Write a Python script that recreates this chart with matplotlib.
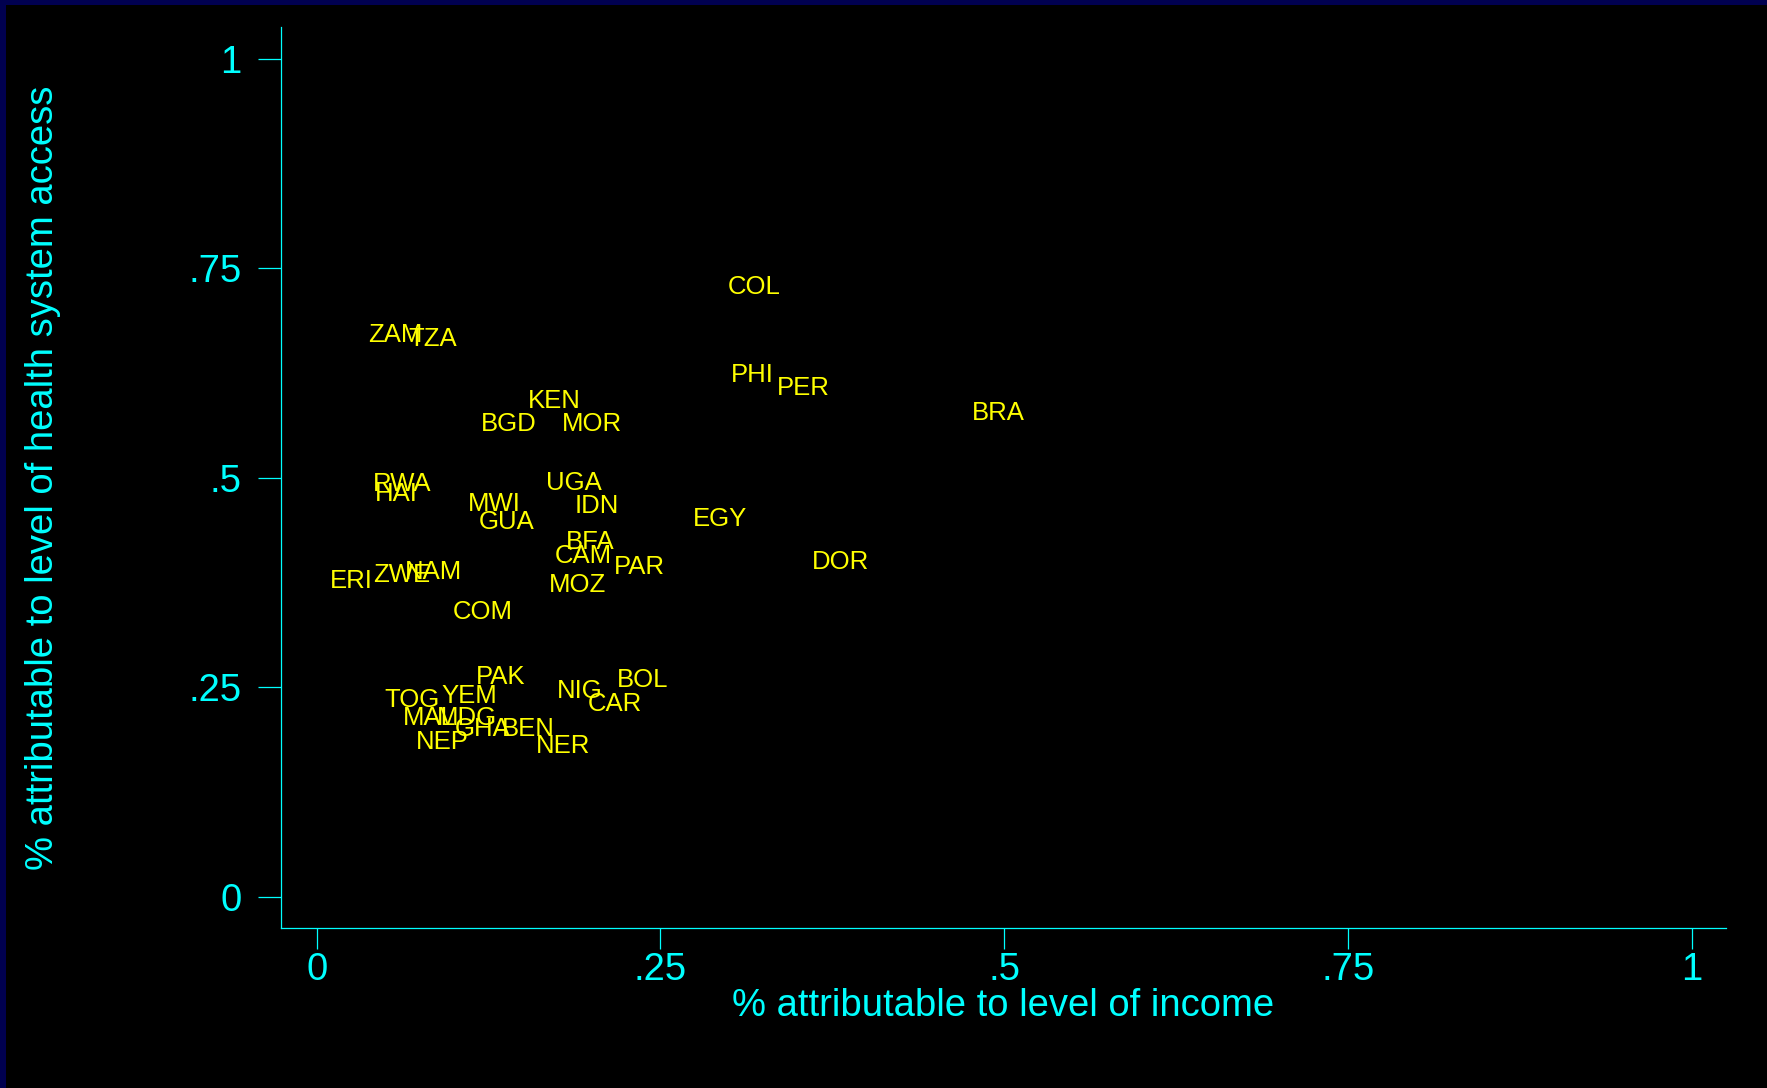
import matplotlib
matplotlib.use("Agg")
import matplotlib.pyplot as plt
from matplotlib.patches import Rectangle
from matplotlib.transforms import offset_copy

# Country codes and decomposition shares
countries = ["COL", "ZAM", "TZA", "PHI", "PER", "BRA", "KEN", "BGD", "MOR",
             "RWA", "HAI", "UGA", "MWI", "IDN", "GUA", "EGY", "BFA", "CAM",
             "PAR", "DOR", "ERI", "ZWE", "NAM", "MOZ", "COM", "PAK", "TOG",
             "YEM", "NIG", "BOL", "CAR", "MAL", "MDG", "GHA", "BEN", "NEP",
             "NER"]
income_share = [0.318, 0.057, 0.084, 0.317, 0.354, 0.496, 0.173, 0.140, 0.200,
                0.062, 0.058, 0.187, 0.129, 0.204, 0.138, 0.293, 0.199, 0.194,
                0.235, 0.381, 0.025, 0.062, 0.085, 0.190, 0.121, 0.134, 0.069,
                0.111, 0.191, 0.237, 0.217, 0.082, 0.109, 0.121, 0.154, 0.091,
                0.179]
access_share = [0.731, 0.673, 0.669, 0.626, 0.610, 0.581, 0.595, 0.567, 0.567,
                0.496, 0.484, 0.497, 0.472, 0.470, 0.450, 0.454, 0.426, 0.410,
                0.397, 0.403, 0.380, 0.387, 0.391, 0.375, 0.343, 0.266, 0.238,
                0.243, 0.249, 0.262, 0.233, 0.216, 0.216, 0.203, 0.204, 0.188,
                0.183]

tick_values = [0, 0.25, 0.5, 0.75, 1]
tick_labels = ["0", ".25", ".5", ".75", "1"]

W, H = 1767, 1088
fig = plt.figure(figsize=(W / 100, H / 100), dpi=100, facecolor="black")
navy = "#000050"
fig.patches.append(Rectangle((0, 0), 6 / W, 1, transform=fig.transFigure,
                             facecolor=navy, edgecolor="none", zorder=0))
fig.patches.append(Rectangle((0, 1 - 5 / H), 1, 5 / H, transform=fig.transFigure,
                             facecolor=navy, edgecolor="none", zorder=0))

left, right = 281 / W, 1726 / W
bottom, top = 1 - 928 / H, 1 - 27 / H
ax = fig.add_axes([left, bottom, right - left, top - bottom])
ax.set_facecolor("black")

cyan = "#00ffff"
fontfam = ["Liberation Sans", "DejaVu Sans"]

# marker labels centred on the (invisible) points, capitals visually centred
label_trans = offset_copy(ax.transData, fig=fig, x=0, y=-2.5, units="dots")
for c, x, y in zip(countries, income_share, access_share):
    ax.text(x, y, c, color="#ffff00", fontsize=18.5, family=fontfam,
            ha="center", va="center", transform=label_trans)

ax.set_xlim(-0.026, 1.025)
ax.set_ylim(-0.037, 1.038)

for s in ["top", "right"]:
    ax.spines[s].set_visible(False)
for s in ["left", "bottom"]:
    ax.spines[s].set_color(cyan)
    ax.spines[s].set_linewidth(0.9)

ax.set_xticks(tick_values)
ax.set_xticklabels(tick_labels)
ax.set_yticks(tick_values)
ax.set_yticklabels(tick_labels)
ax.tick_params(axis="x", direction="out", length=15, width=0.9, color=cyan,
               labelcolor=cyan, labelsize=27.5, pad=2)
ax.tick_params(axis="y", direction="out", length=16.5, width=0.9, color=cyan,
               labelcolor=cyan, labelsize=27.5, pad=12)
for lab in ax.get_xticklabels() + ax.get_yticklabels():
    lab.set_family(fontfam)

ax.set_xlabel("% attributable to level of income", color=cyan, fontsize=27.5,
              family=fontfam, va="center", ha="center")
ax.xaxis.set_label_coords(0.5, -0.087)
ax.set_ylabel("% attributable to level of health system access", color=cyan,
              fontsize=27.5, family=fontfam, va="center", ha="center")
ax.yaxis.set_label_coords(-0.1645, 0.5)

fig.savefig("out.png", dpi=100, facecolor=fig.get_facecolor())
